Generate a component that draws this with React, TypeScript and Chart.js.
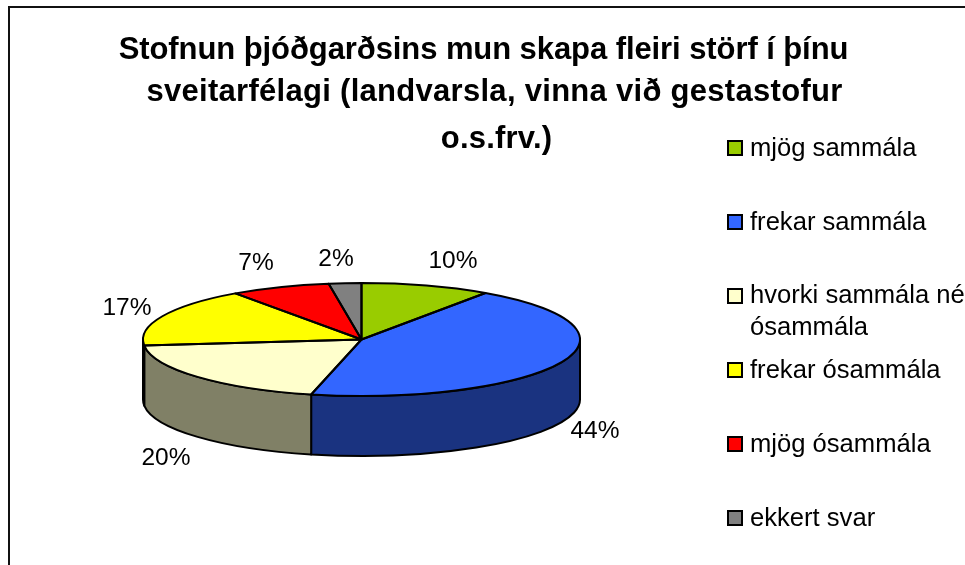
import React, { useEffect, useRef } from "react";
import { Chart, registerables } from "chart.js";

Chart.register(...registerables);

const titleLines = [
  "Stofnun þjóðgarðsins mun skapa fleiri störf í þínu",
  "sveitarfélagi (landvarsla, vinna við gestastofur",
  "o.s.frv.)",
];
const categories = [
  "mjög sammála",
  "frekar sammála",
  "hvorki sammála né ósammála",
  "frekar ósammála",
  "mjög ósammála",
  "ekkert svar",
];
const values = [9.6, 44.1, 19.6, 16.9, 7.4, 2.4];
const topColors = ["#99CC00", "#3366FF", "#FFFFCC", "#FFFF00", "#FF0000", "#808080"];
const wallColors = ["#4D6600", "#1A3380", "#808066", "#808000", "#800000", "#404040"];

// layout of the drawing
const W = 965;
const H = 565;
const CX = 361.5;
const CY = 339.5;
const RX = 218.5;
const RY = 56.5;
const DEPTH = 60;
const titleRows = [
  { x: 483.5, y: 59, spacing: "-0.08px" },
  { x: 494.5, y: 101, spacing: "0.29px" },
  { x: 496.5, y: 148, spacing: "0.2px" },
];
const labelCenters = [
  { x: 453, y: 261 },
  { x: 595, y: 431 },
  { x: 166, y: 458 },
  { x: 127, y: 308 },
  { x: 256, y: 263 },
  { x: 336, y: 259 },
];
const legendBoxY = [141, 215, 289, 363, 437, 511];
const legendRows = [
  [{ t: "mjög sammála", y: 156 }],
  [{ t: "frekar sammála", y: 230 }],
  [
    { t: "hvorki sammála né", y: 303 },
    { t: "ósammála", y: 335 },
  ],
  [{ t: "frekar ósammála", y: 378 }],
  [{ t: "mjög ósammála", y: 452 }],
  [{ t: "ekkert svar", y: 526 }],
];
const SANS = '"Liberation Sans", Arial, sans-serif';

const arcsOf = (chart: any) => chart.getDatasetMeta(0).data as any[];

const pie3d = {
  id: "pie3d",
  beforeDraw(chart: any) {
    const { ctx } = chart;
    ctx.save();
    ctx.fillStyle = "#fff";
    ctx.fillRect(0, 0, W, H);
    ctx.strokeStyle = "#111";
    ctx.lineWidth = 2;
    ctx.beginPath();
    ctx.moveTo(9, H);
    ctx.lineTo(9, 7);
    ctx.lineTo(W, 7);
    ctx.stroke();
    ctx.restore();
  },
  beforeDatasetsDraw(chart: any) {
    const { ctx } = chart;
    const arcs = arcsOf(chart);
    // side walls, for the part of every slice that faces the viewer
    ctx.save();
    ctx.strokeStyle = "#000";
    ctx.lineWidth = 2;
    ctx.lineJoin = "round";
    arcs.forEach((a, i) => {
      const s = a.startAngle;
      const e = a.endAngle;
      const t0 = Math.max(s, 0);
      const t1 = Math.min(e, Math.PI);
      if (t1 <= t0) return;
      ctx.beginPath();
      ctx.ellipse(CX, CY, RX, RY, 0, t0, t1);
      ctx.ellipse(CX, CY + DEPTH, RX, RY, 0, t1, t0, true);
      ctx.closePath();
      ctx.fillStyle = wallColors[i];
      ctx.fill();
      ctx.stroke();
    });
    ctx.restore();
    // the tilt of the pie: the library's arcs are painted through it
    ctx.save();
    const a0 = arcs[0];
    ctx.translate(CX, CY);
    ctx.scale(RX / a0.outerRadius, RY / a0.outerRadius);
    ctx.translate(-a0.x, -a0.y);
  },
  afterDatasetsDraw(chart: any) {
    const { ctx } = chart;
    ctx.restore();
    ctx.save();
    ctx.strokeStyle = "#000";
    ctx.lineWidth = 2;
    ctx.lineJoin = "round";
    arcsOf(chart).forEach((a) => {
      ctx.beginPath();
      ctx.moveTo(CX, CY);
      ctx.ellipse(CX, CY, RX, RY, 0, a.startAngle, a.endAngle);
      ctx.closePath();
      ctx.stroke();
    });
    ctx.restore();
  },
  afterDraw(chart: any) {
    const { ctx } = chart;
    const data = chart.data.datasets[0].data as number[];
    const total = data.reduce((p: number, c: number) => p + c, 0);
    ctx.save();
    ctx.fillStyle = "#000";
    ctx.textAlign = "center";
    ctx.textBaseline = "alphabetic";
    ctx.font = `bold 31px ${SANS}`;
    titleLines.forEach((t, i) => {
      ctx.letterSpacing = titleRows[i].spacing;
      ctx.fillText(t, titleRows[i].x, titleRows[i].y);
    });
    ctx.letterSpacing = "0px";

    ctx.font = `24.5px ${SANS}`;
    ctx.textBaseline = "middle";
    data.forEach((v, i) => {
      ctx.fillText(`${Math.round((v / total) * 100)}%`, labelCenters[i].x, labelCenters[i].y);
    });

    ctx.textAlign = "left";
    ctx.textBaseline = "alphabetic";
    ctx.font = `25.6px ${SANS}`;
    categories.forEach((_, i) => {
      ctx.fillStyle = topColors[i];
      ctx.fillRect(728, legendBoxY[i], 14, 14);
      ctx.strokeStyle = "#000";
      ctx.lineWidth = 2;
      ctx.strokeRect(728, legendBoxY[i], 14, 14);
      ctx.fillStyle = "#000";
      legendRows[i].forEach((r) => ctx.fillText(r.t, 750, r.y));
    });
    ctx.restore();
  },
};

export default function App() {
  const ref = useRef<HTMLCanvasElement>(null);
  useEffect(() => {
    const chart = new Chart(ref.current!, {
      type: "pie",
      data: {
        labels: categories,
        datasets: [{ data: values, backgroundColor: topColors, borderWidth: 0 }],
      },
      options: {
        responsive: false,
        animation: false,
        radius: 218.5,
        plugins: { legend: { display: false }, title: { display: false }, tooltip: { enabled: false } },
      } as any,
      plugins: [pie3d],
    });
    return () => chart.destroy();
  }, []);
  return (
    <canvas
      ref={ref}
      width={W}
      height={H}
      style={{ position: "absolute", left: 0, top: 0, display: "block" }}
    />
  );
}
